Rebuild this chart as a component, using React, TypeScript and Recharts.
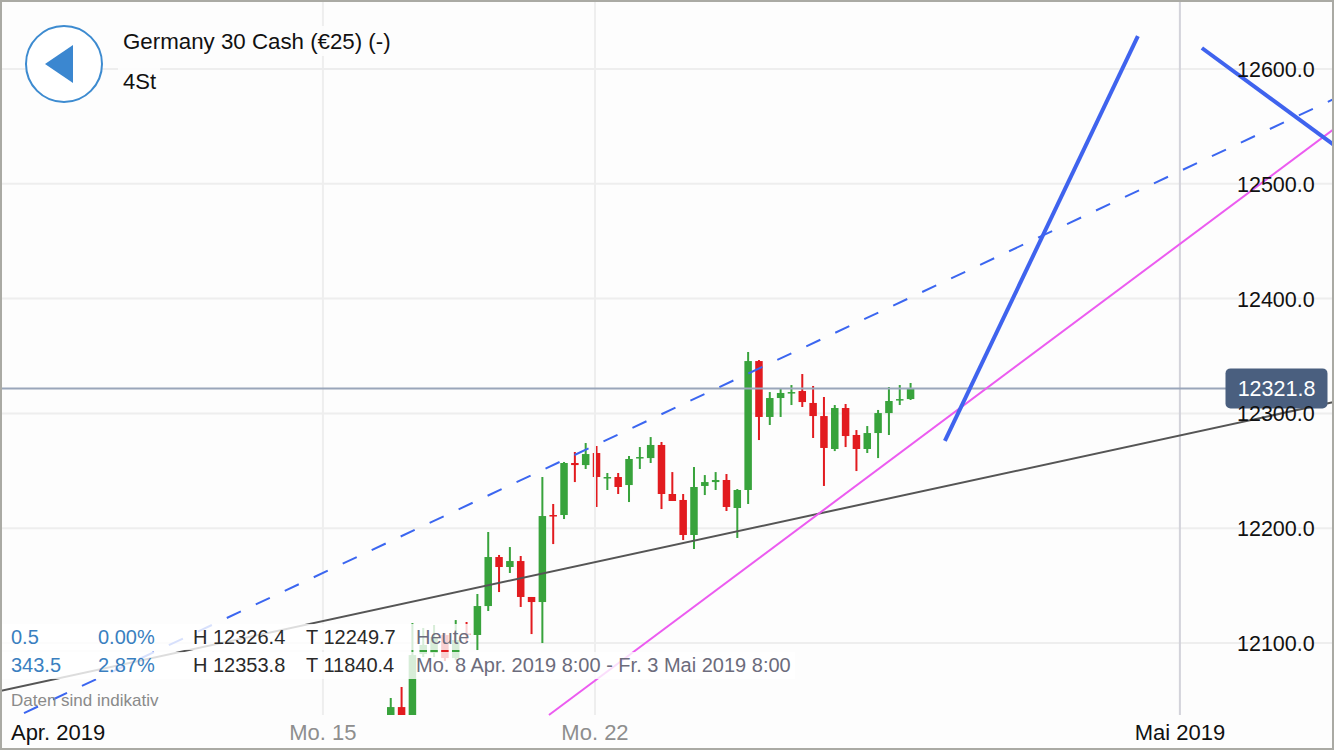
import { Bar, CartesianGrid, ComposedChart, ReferenceDot, ReferenceLine, XAxis, YAxis } from 'recharts'

const FONT = '"Liberation Sans", Arial, sans-serif'
const WIDTH = 1334
const HEIGHT = 750

// candle slots run one per 4h bar, Mo. 15 sits at slot 0
const firstSlot = 6.3
const highs = [
  12052.1, 12061.7, 12117.4, 12113.1, 12115.7, 12108.7, 12120.0, 12118.3, 12142.7, 12196.7,
  12176.7, 12183.6, 12175.8, 12140.1, 12244.6, 12221.1, 12257.7, 12266.4, 12274.2, 12271.6,
  12248.1, 12248.1, 12262.9, 12270.7, 12279.4, 12275.1, 12248.9, 12229.8, 12253.3, 12246.3,
  12248.9, 12247.2, 12234.1, 12353.5, 12346.5, 12318.6, 12322.1, 12324.7, 12334.3, 12323.9,
  12314.3, 12307.3, 12308.2, 12285.5, 12289.0, 12303.0, 12323.0, 12324.7, 12326.5,
]
const lows = [
  12019.9, 12015.5, 12019.9, 12087.8, 12087.8, 12084.3, 12085.2, 12100.0, 12093.9, 12127.9,
  12144.4, 12161.0, 12131.4, 12107.8, 12100.0, 12186.2, 12208.0, 12240.2, 12251.6, 12218.5,
  12233.3, 12229.8, 12222.8, 12251.6, 12256.8, 12216.7, 12223.7, 12189.7, 12181.9, 12228.9,
  12233.3, 12215.0, 12191.5, 12221.1, 12276.8, 12289.9, 12296.9, 12307.3, 12305.6, 12278.6,
  12236.8, 12267.2, 12270.7, 12249.8, 12265.5, 12261.1, 12281.2, 12307.3, 12311.7,
]
const opens = [
  12028.6, 12044.2, 12024.2, 12090.4, 12091.3, 12107.0, 12086.9, 12108.3, 12107.0, 12132.2,
  12174.9, 12166.2, 12171.4, 12140.1, 12135.7, 12211.5, 12211.5, 12256.8, 12255.0, 12265.5,
  12243.7, 12244.6, 12237.6, 12261.1, 12261.1, 12272.5, 12229.8, 12224.6, 12194.1, 12236.8,
  12240.2, 12242.0, 12217.6, 12233.3, 12345.6, 12296.9, 12313.4, 12317.8, 12319.5, 12309.1,
  12297.7, 12269.0, 12304.7, 12281.2, 12269.0, 12282.9, 12300.3, 12311.7, 12312.5,
]
const closes = [
  12044.2, 12024.2, 12089.5, 12098.3, 12105.2, 12086.9, 12102.6, 12107.0, 12132.2, 12174.9,
  12166.2, 12171.4, 12140.1, 12135.7, 12210.6, 12210.6, 12256.8, 12255.0, 12264.6, 12244.6,
  12244.6, 12235.9, 12260.3, 12262.0, 12272.5, 12229.8, 12223.7, 12194.1, 12235.9, 12240.2,
  12242.0, 12218.5, 12233.3, 12345.6, 12296.9, 12313.4, 12317.8, 12318.6, 12309.9, 12297.7,
  12269.9, 12304.7, 12280.3, 12269.0, 12282.9, 12300.3, 12310.8, 12312.5, 12321.8,
]

const priceTicks = [12100, 12200, 12300, 12400, 12500, 12600]
const xTickSlots = [-24.46, 0, 25.12, 79.13]
const xTickLabels = ['Apr. 2019', 'Mo. 15', 'Mo. 22', 'Mai 2019']
const lastPrice = 12321.8

// drawn trend lines, [slot, price] at both ends
const channelLine = [[-27.98, 12037.3], [93.35, 12573.9]]
const supportLine = [[-29.82, 12058.2], [93.35, 12309.9]]
const pinkLine = [[20.87, 12037.3], [93.35, 12547.7]]
const arrowUp = [[57.43, 12276.0], [75.25, 12628.7]]
const arrowDown = [[81.16, 12618.3], [93.35, 12533.8]]

const chartData = highs.map((high, i) => ({
  slot: firstSlot + i,
  high,
  low: lows[i],
  open: opens[i],
  close: closes[i],
}))

function seg(line: number[][]) {
  return line.map(([x, y]) => ({ x, y })) as any
}

function Candle(props: any) {
  const { x, y, width, height, payload } = props
  const up = payload.close >= payload.open
  const color = up ? '#38a33c' : '#e21b1f'
  const perUnit = height / (payload.high - payload.low)
  const top = y + (payload.high - Math.max(payload.open, payload.close)) * perUnit
  const bodyH = Math.abs(payload.open - payload.close) * perUnit
  const cx = x + width / 2
  return (
    <g>
      <rect x={cx - 1} y={y} width={2} height={height} fill={color} />
      <rect x={cx - 3.75} y={top} width={7.5} height={Math.max(bodyH, 1.5)} fill={color} />
    </g>
  )
}

function PriceTick({ y, payload }: any) {
  return (
    <text x={1237} y={y + 8} fontSize={21.5} fontFamily={FONT} fill="#111">
      {payload.value.toFixed(1)}
    </text>
  )
}

function DateTick({ x, payload }: any) {
  const i = xTickSlots.indexOf(payload.value)
  const isMonth = i === 0 || i === 3
  return (
    <text x={x} y={740} textAnchor="middle" fontSize={22} fontFamily={FONT} fill={isMonth ? '#111' : '#8e8e8e'}>
      {xTickLabels[i]}
    </text>
  )
}

function PriceBadge({ cx, cy }: any) {
  return (
    <g>
      <rect x={cx - 51} y={cy - 20} width={102} height={40} rx={5} fill="#4a5f7f" />
      <text x={cx} y={cy + 8} textAnchor="middle" fontSize={21.5} fontFamily={FONT} fill="#fff">
        {lastPrice}
      </text>
    </g>
  )
}

function Label({ x, y, color, size = 20, children }: { x: number; y: number; color: string; size?: number; children: React.ReactNode }) {
  return (
    <div style={{ position: 'absolute', left: x, top: y, color, fontSize: size, lineHeight: `${size + 4}px`, whiteSpace: 'nowrap' }}>
      {children}
    </div>
  )
}

export default function App() {
  const blue = '#3a7fc0'
  const dark = '#2a2a2a'
  const grey = '#6c6c7c'
  return (
    <div style={{ position: 'fixed', left: 0, top: 0, width: WIDTH, height: HEIGHT, background: '#fdfdfd', fontFamily: FONT, overflow: 'hidden' }}>
      <ComposedChart width={WIDTH} height={HEIGHT} data={chartData} margin={{ top: 0, right: 0, bottom: 0, left: 0 }}>
        <CartesianGrid vertical={false} horizontalValues={priceTicks} stroke="#eeeeee" strokeWidth={2} />
        <XAxis
          dataKey="slot"
          type="number"
          domain={[-29.82, 93.36]}
          ticks={xTickSlots}
          interval={0}
          height={35}
          axisLine={false}
          tickLine={false}
          tick={<DateTick />}
          allowDataOverflow
        />
        <YAxis
          type="number"
          domain={[12037.3, 12660.1]}
          ticks={priceTicks}
          interval={0}
          orientation="right"
          mirror
          width={97}
          axisLine={false}
          tickLine={false}
          tick={<PriceTick />}
          allowDataOverflow
        />
        <ReferenceLine x={xTickSlots[1]} stroke="#eeeeee" strokeWidth={2} />
        <ReferenceLine x={xTickSlots[2]} stroke="#eeeeee" strokeWidth={2} />
        <ReferenceLine x={xTickSlots[3]} stroke="#d3d3da" strokeWidth={2} />
        <ReferenceLine segment={[{ x: -29.82, y: lastPrice }, { x: 84, y: lastPrice }]} stroke="#9aa6ba" strokeWidth={2} />
        <Bar dataKey={(d: any) => [d.low, d.high]} barSize={8} shape={<Candle />} isAnimationActive={false} />
        <ReferenceLine segment={seg(channelLine)} stroke="#3b66f0" strokeWidth={2} strokeDasharray="15.5 16.5" strokeDashoffset={-4.5} />
        <ReferenceLine segment={seg(supportLine)} stroke="#555555" strokeWidth={2} />
        <ReferenceLine segment={seg(pinkLine)} stroke="#ec5cf0" strokeWidth={2} />
        <ReferenceLine segment={seg(arrowUp)} stroke="#3f63ee" strokeWidth={4} />
        <ReferenceLine segment={seg(arrowDown)} stroke="#3f63ee" strokeWidth={4} />
        <ReferenceDot x={88.05} y={lastPrice} shape={<PriceBadge />} />
      </ComposedChart>

      {/* text backdrops fade whatever runs behind them */}
      <div style={{ position: 'absolute', left: 0, top: 624, width: 470, height: 26, background: 'rgba(255,255,255,0.8)' }} />
      <div style={{ position: 'absolute', left: 0, top: 652, width: 795, height: 27, background: 'rgba(255,255,255,0.8)' }} />
      <div style={{ position: 'absolute', left: 118, top: 26, width: 274, height: 30, background: 'rgba(253,253,253,0.9)' }} />
      <div style={{ position: 'absolute', left: 118, top: 66, width: 42, height: 28, background: 'rgba(253,253,253,0.9)' }} />

      <svg width={110} height={110} style={{ position: 'absolute', left: 9, top: 9 }}>
        <circle cx={55} cy={55} r={38} fill="#fff" stroke="#3d8bd0" strokeWidth={2} />
        <polygon points="36,55 64,36 64,74" fill="#3b87d0" />
      </svg>

      <Label x={123} y={29} color="#111" size={22.3}>Germany 30 Cash (€25) (-)</Label>
      <Label x={123} y={69} color="#111" size={22}>4St</Label>

      <Label x={11} y={625} color={blue}>0.5</Label>
      <Label x={98} y={625} color={blue}>0.00%</Label>
      <Label x={193} y={625} color={dark}>H 12326.4</Label>
      <Label x={306} y={625} color={dark}>T 12249.7</Label>
      <Label x={416} y={625} color={grey}>Heute</Label>
      <Label x={11} y={653} color={blue}>343.5</Label>
      <Label x={98} y={653} color={blue}>2.87%</Label>
      <Label x={193} y={653} color={dark}>H 12353.8</Label>
      <Label x={306} y={653} color={dark}>T 11840.4</Label>
      <Label x={416} y={653} color={grey}>Mo. 8 Apr. 2019 8:00 - Fr. 3 Mai 2019 8:00</Label>
      <Label x={11} y={690} color="#8a8a8a" size={17}>Daten sind indikativ</Label>

      <div style={{ position: 'absolute', inset: 0, border: '2px solid #aaaaa4', boxSizing: 'border-box', pointerEvents: 'none' }} />
    </div>
  )
}
